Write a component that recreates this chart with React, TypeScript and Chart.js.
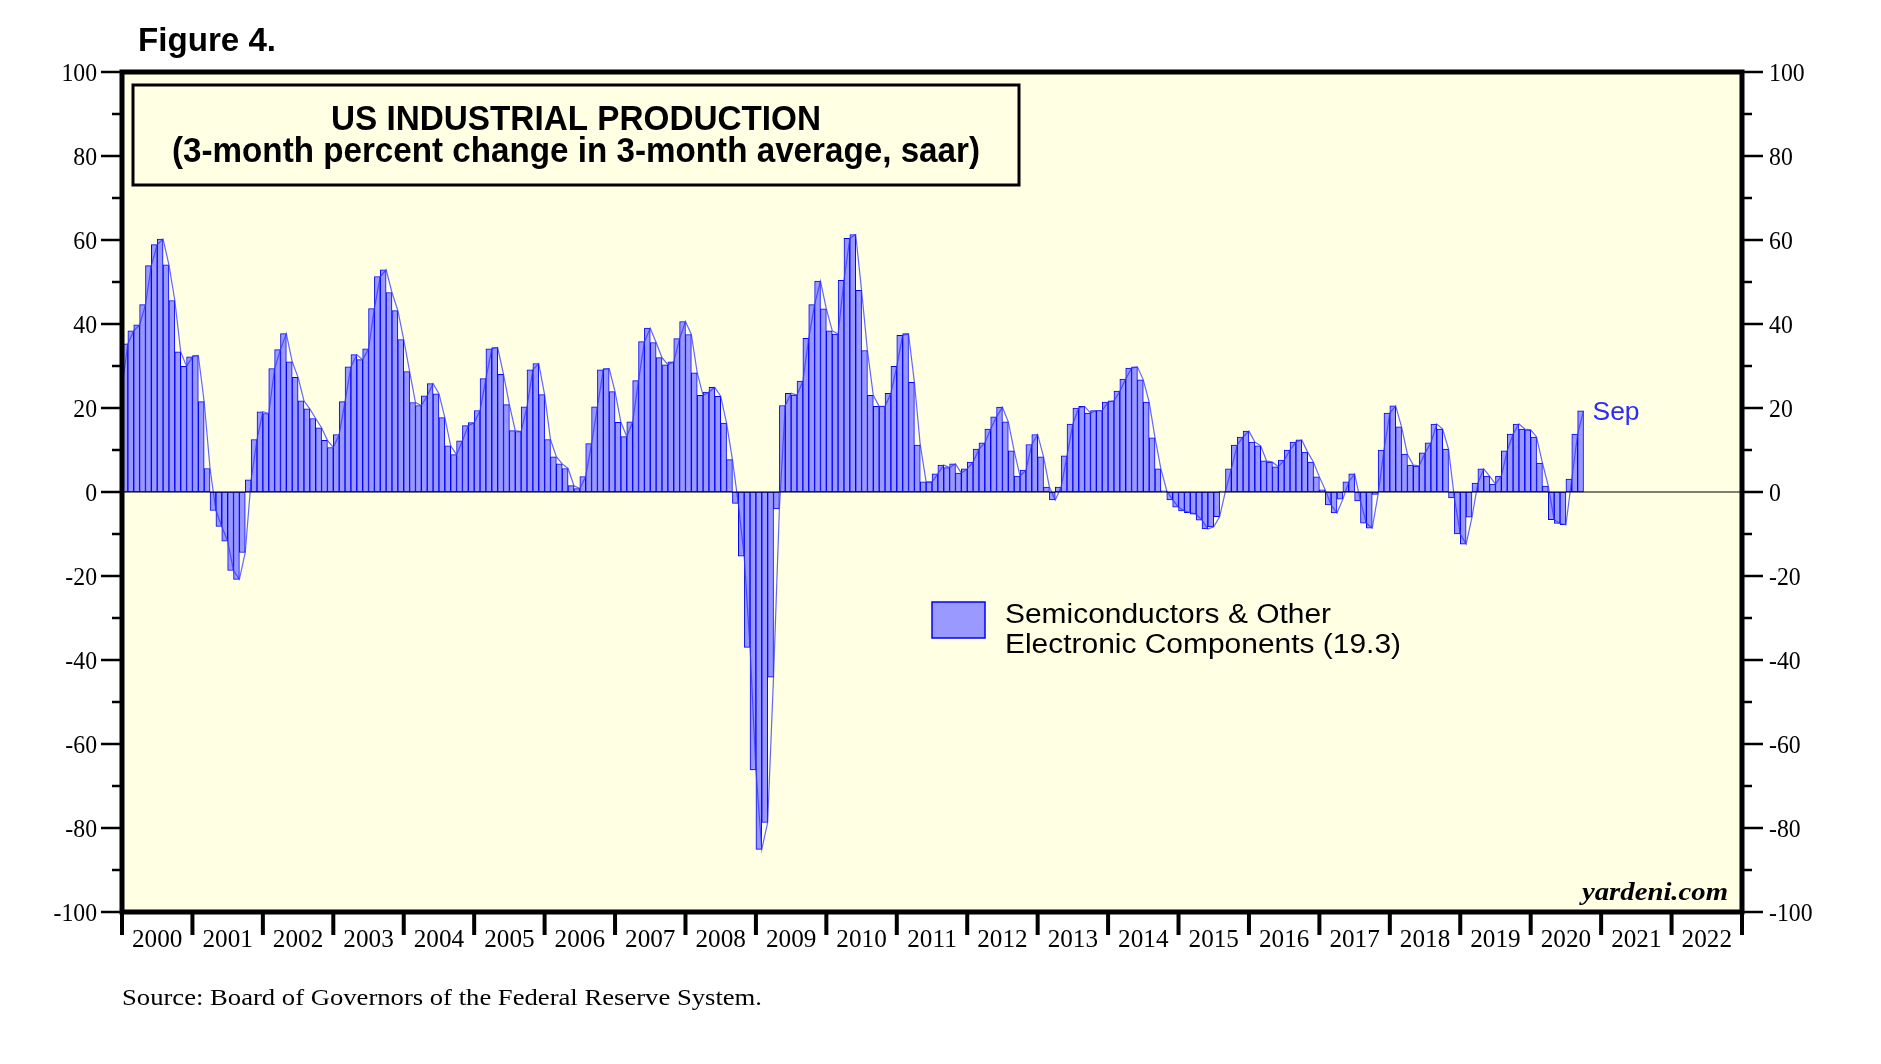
import React, { useEffect, useRef } from "react";
import { Chart, registerables } from "chart.js";

Chart.register(...registerables);

const W = 1881;
const H = 1064;

const yearLabels = [
  "2000", "2001", "2002", "2003", "2004", "2005", "2006", "2007", "2008", "2009", "2010", "2011",
  "2012", "2013", "2014", "2015", "2016", "2017", "2018", "2019", "2020", "2021", "2022",
];
const yTickValues = [-100, -80, -60, -40, -20, 0, 20, 40, 60, 80, 100];
const yMinorTickValues = [-90, -70, -50, -30, -10, 10, 30, 50, 70, 90];

// Monthly values, Jan 2000 .. Sep 2020
const semiValues = [
  35.3, 38.4, 39.8, 44.6, 53.9, 58.9, 60.2, 54.1, 45.6, 33.4, 29.9, 32.2,
  32.5, 21.5, 5.6, -4.4, -8.2, -11.7, -18.7, -20.8, -14.4, 2.9, 12.5, 19.1,
  18.7, 29.4, 33.9, 37.7, 31.0, 27.3, 21.7, 19.8, 17.5, 15.3, 12.3, 10.6,
  13.7, 21.5, 29.8, 32.7, 31.5, 34.1, 43.7, 51.3, 52.9, 47.5, 43.2, 36.3,
  28.7, 21.3, 20.6, 22.9, 25.8, 23.4, 17.7, 11.0, 8.9, 12.2, 15.8, 16.5,
  19.4, 27.0, 34.1, 34.4, 28.0, 20.8, 14.6, 14.4, 20.3, 29.1, 30.6, 23.2,
  12.5, 8.4, 6.7, 5.6, 1.5, 0.8, 3.7, 11.5, 20.3, 29.1, 29.4, 23.9,
  16.6, 13.2, 16.7, 26.5, 35.8, 39.0, 35.6, 32.0, 30.3, 31.0, 36.5, 40.6,
  37.5, 28.4, 23.0, 23.8, 24.9, 22.8, 16.4, 7.7, -2.7, -15.3, -37.0, -66.2,
  -85.1, -78.7, -44.1, -4.0, 20.6, 23.5, 23.1, 26.4, 36.6, 44.6, 50.2, 43.6,
  38.4, 37.6, 50.4, 60.4, 61.3, 48.0, 33.7, 23.0, 20.4, 20.4, 23.5, 29.9,
  37.3, 37.7, 26.1, 11.2, 2.4, 2.4, 4.3, 6.4, 5.8, 6.7, 4.5, 5.5,
  7.1, 10.2, 11.7, 15.0, 17.9, 20.2, 16.7, 9.8, 3.8, 5.2, 11.3, 13.7,
  8.4, 1.2, -1.9, 1.2, 8.6, 16.2, 20.0, 20.4, 18.8, 19.4, 19.4, 21.4,
  21.7, 24.0, 26.9, 29.5, 29.8, 26.7, 21.4, 12.9, 5.5, 0.3, -1.9, -3.6,
  -4.5, -4.9, -5.3, -6.7, -8.8, -8.3, -5.9, 0.2, 5.5, 11.2, 13.1, 14.5,
  11.9, 11.0, 7.4, 7.1, 6.0, 7.6, 10.0, 11.9, 12.4, 9.5, 7.1, 3.6,
  0.5, -3.1, -5.0, -1.7, 2.4, 4.3, -2.1, -7.4, -8.6, -0.6, 10.0, 18.8,
  20.5, 15.5, 9.0, 6.4, 6.2, 9.3, 11.7, 16.2, 15.0, 10.2, -1.4, -10.0,
  -12.4, -6.0, 2.1, 5.5, 3.8, 1.9, 3.8, 9.8, 13.8, 16.2, 15.0, 14.8,
  13.1, 6.9, 1.4, -6.6, -7.5, -7.8, 3.1, 13.8, 19.3,
];
// Level of the thin line at the left edge (Dec 1999)
const priorValue = [25];

const titleLines = ["US INDUSTRIAL PRODUCTION", "(3-month percent change in 3-month average, saar)"];
const legendLines = ["Semiconductors & Other", "Electronic Components (19.3)"];
const lastMonthLabel = "Sep";
const figureLabel = "Figure 4.";
const sourceLabel = "Source: Board of Governors of the Federal Reserve System.";
const brandLabel = "yardeni.com";

const SANS = "'Liberation Sans', Arial, sans-serif";
const SERIF = "'Liberation Serif', 'Times New Roman', serif";

function drawText(
  ctx: CanvasRenderingContext2D,
  text: string,
  x: number,
  y: number,
  font: string,
  align: CanvasTextAlign,
  width?: number,
  sx0 = 1,
  color = "#000"
) {
  ctx.save();
  ctx.font = font;
  ctx.fillStyle = color;
  ctx.textBaseline = "alphabetic";
  const w = ctx.measureText(text).width;
  const sx = width ? width / w : sx0;
  ctx.translate(x, y);
  ctx.scale(sx, 1);
  ctx.textAlign = align;
  ctx.fillText(text, 0, 0);
  ctx.restore();
}

const decorPlugin = {
  id: "decor",
  beforeDraw(chart: any) {
    const { ctx, chartArea: a } = chart;
    ctx.save();
    ctx.fillStyle = "#ffffff";
    ctx.fillRect(0, 0, chart.width, chart.height);
    ctx.fillStyle = "#ffffe3";
    ctx.fillRect(a.left, a.top, a.right - a.left, a.bottom - a.top);
    ctx.restore();
  },
  afterDatasetsDraw(chart: any) {
    const { ctx, chartArea: a, scales } = chart;
    const y0 = scales.y.getPixelForValue(0);
    ctx.save();
    ctx.strokeStyle = "#000";
    ctx.lineWidth = 1.2;
    ctx.beginPath();
    ctx.moveTo(a.left, y0);
    ctx.lineTo(a.right, y0);
    ctx.stroke();
    ctx.restore();
  },
  afterDraw(chart: any) {
    const { ctx, chartArea: a, scales } = chart;
    const xs = scales.x;
    const ys = scales.y;
    ctx.save();

    // frame
    ctx.strokeStyle = "#000";
    ctx.lineWidth = 5;
    ctx.strokeRect(a.left, a.top, a.right - a.left, a.bottom - a.top);

    // y ticks & labels
    ctx.lineWidth = 2.5;
    for (const v of yTickValues) {
      const y = ys.getPixelForValue(v);
      ctx.beginPath();
      ctx.moveTo(a.left - 21, y);
      ctx.lineTo(a.left, y);
      ctx.moveTo(a.right, y);
      ctx.lineTo(a.right + 21, y);
      ctx.stroke();
      drawText(ctx, String(v), a.left - 25, y + 8.5, `25px ${SERIF}`, "right", undefined, 0.95);
      drawText(ctx, String(v), a.right + 27, y + 8.5, `25px ${SERIF}`, "left", undefined, 0.95);
    }
    for (const v of yMinorTickValues) {
      const y = ys.getPixelForValue(v);
      ctx.beginPath();
      ctx.moveTo(a.left - 10, y);
      ctx.lineTo(a.left, y);
      ctx.moveTo(a.right, y);
      ctx.lineTo(a.right + 10, y);
      ctx.stroke();
    }

    // x ticks & year labels
    ctx.lineWidth = 4;
    for (let k = 0; k <= yearLabels.length; k++) {
      const x = xs.getPixelForValue(12 * k);
      ctx.beginPath();
      ctx.moveTo(x, a.bottom);
      ctx.lineTo(x, a.bottom + 23);
      ctx.stroke();
    }
    yearLabels.forEach((lab, k) => {
      const x = xs.getPixelForValue(12 * k + 6);
      drawText(ctx, lab, x, a.bottom + 35, `26px ${SERIF}`, "center", undefined, 0.97);
    });

    // title box
    ctx.lineWidth = 3;
    ctx.strokeStyle = "#000";
    ctx.strokeRect(133, 85, 886, 100);
    drawText(ctx, titleLines[0], 576, 130, `bold 35px ${SANS}`, "center", 490);
    drawText(ctx, titleLines[1], 576, 162, `bold 35px ${SANS}`, "center", 808);

    // legend
    ctx.fillStyle = "#9999ff";
    ctx.fillRect(932, 602, 53, 36);
    ctx.strokeStyle = "#0000ff";
    ctx.lineWidth = 1.5;
    ctx.strokeRect(932, 602, 53, 36);
    drawText(ctx, legendLines[0], 1005, 623, `27px ${SANS}`, "left", 326);
    drawText(ctx, legendLines[1], 1005, 653, `27px ${SANS}`, "left", 396);

    // last month label
    const lastIdx = semiValues.length;
    const lx = xs.getPixelForValue(lastIdx) + 9;
    const ly = ys.getPixelForValue(semiValues[lastIdx - 1]) + 9;
    drawText(ctx, lastMonthLabel, lx, ly, `26px ${SANS}`, "left", 47, 1, "#2a2aff");

    // brand
    drawText(ctx, brandLabel, a.right - 14, a.bottom - 12, `italic bold 26px ${SERIF}`, "right", 146);

    // figure label & source
    drawText(ctx, figureLabel, 138, 51, `bold 34px ${SANS}`, "left", 138);
    drawText(ctx, sourceLabel, 122, 1005, `24px ${SERIF}`, "left", 640);

    ctx.restore();
  },
};

export default function App() {
  const ref = useRef<HTMLCanvasElement | null>(null);

  useEffect(() => {
    const canvas = ref.current;
    if (!canvas) return;
    const barData = semiValues.map((v, i) => ({ x: i + 0.5, y: v }));
    const lineSeries = [...priorValue, ...semiValues];
    const lineData = lineSeries.map((v, i) => ({ x: i, y: v }));
    const chart = new Chart(canvas, {
      type: "bar",
      data: {
        datasets: [
          {
            type: "line",
            data: lineData,
            borderColor: "rgba(50,50,255,0.75)",
            borderWidth: 1.2,
            pointRadius: 0,
            tension: 0,
            order: 0,
          } as any,
          {
            type: "bar",
            data: barData,
            backgroundColor: "#9999ff",
            borderColor: "#0000ff",
            borderWidth: 1,
            borderSkipped: false,
            barPercentage: 1,
            categoryPercentage: 1,
            order: 1,
          } as any,
        ],
      },
      options: {
        animation: false,
        responsive: false,
        maintainAspectRatio: false,
        devicePixelRatio: 1,
        layout: { padding: { left: 122, right: W - 1742, top: 72, bottom: H - 912 } },
        scales: {
          x: {
            type: "linear",
            min: 0,
            max: yearLabels.length * 12,
            offset: false,
            bounds: "ticks",
            display: false,
            grid: { offset: false },
          },
          y: { type: "linear", min: -100, max: 100, display: false },
        },
        plugins: {
          legend: { display: false },
          tooltip: { enabled: false },
          title: { display: false },
        },
      },
      plugins: [decorPlugin],
    });
    return () => chart.destroy();
  }, []);

  return (
    <div style={{ position: "fixed", left: 0, top: 0, width: W, height: H, background: "#fff" }}>
      <canvas ref={ref} width={W} height={H} style={{ width: W, height: H, display: "block" }} />
    </div>
  );
}
